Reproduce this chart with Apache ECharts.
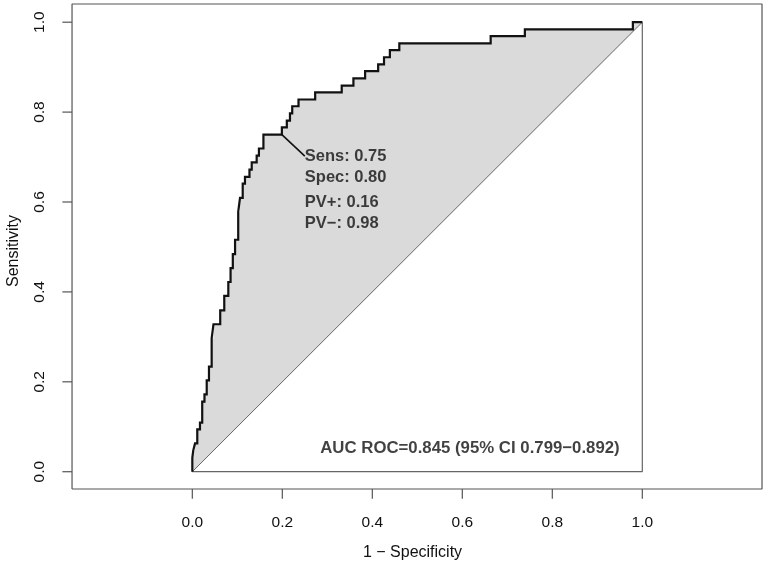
<!DOCTYPE html>
<html><head><meta charset="utf-8">
<script src="https://cdn.jsdelivr.net/npm/echarts@6/dist/echarts.min.js"></script>
<style>html,body{margin:0;padding:0;background:#fff}#c{width:766px;height:565px}</style>
</head><body><div id="c"></div>
<script>
// ROC staircase vertices (1 - specificity, sensitivity)
const fpr = [0,0,0.002,0.002,0.006,0.006,0.011,0.011,0.017,0.017,0.022,0.022,0.027,0.027,0.032,0.032,0.037,0.037,0.043,0.043,0.047,0.047,0.062,0.062,0.071,0.071,0.080,0.080,0.085,0.085,0.090,0.090,0.095,0.095,0.102,0.102,0.106,0.106,0.112,0.112,0.117,0.117,0.127,0.127,0.132,0.132,0.143,0.143,0.148,0.148,0.158,0.158,0.199,0.199,0.210,0.210,0.217,0.217,0.222,0.222,0.236,0.236,0.273,0.273,0.332,0.332,0.358,0.358,0.384,0.384,0.413,0.413,0.426,0.426,0.439,0.439,0.460,0.460,0.663,0.663,0.739,0.739,0.979,0.979,1.000];
const sens = [0,0.031,0.031,0.047,0.047,0.063,0.063,0.094,0.094,0.109,0.109,0.156,0.156,0.172,0.172,0.203,0.203,0.234,0.234,0.297,0.297,0.328,0.328,0.359,0.359,0.391,0.391,0.422,0.422,0.453,0.453,0.484,0.484,0.516,0.516,0.578,0.578,0.609,0.609,0.641,0.641,0.656,0.656,0.672,0.672,0.688,0.688,0.703,0.703,0.719,0.719,0.750,0.750,0.766,0.766,0.781,0.781,0.797,0.797,0.813,0.813,0.828,0.828,0.844,0.844,0.859,0.859,0.875,0.875,0.891,0.891,0.906,0.906,0.922,0.922,0.938,0.938,0.953,0.953,0.969,0.969,0.984,0.984,1.000,1.000];
const xTicks = [0, 0.2, 0.4, 0.6, 0.8, 1.0];
const yTicks = [0, 0.2, 0.4, 0.6, 0.8, 1.0];
const xName = '1 \u2212 Specificity';
const yName = 'Sensitivity';
const bestPoint = [0.199, 0.750];
const bestLabels = ['Sens: 0.75', 'Spec: 0.80', 'PV+: 0.16', 'PV\u2212: 0.98'];
const aucText = 'AUC ROC=0.845 (95% CI 0.799\u22120.892)';

const FONT = '"Liberation Sans", Arial, sans-serif';
const TXT = '#111';
const AX = '#555';
// axis extents include the tick-mark margin; the plot frame sits inside them
const X_MIN = -0.2896, X_MAX = 1.2682, Y_MIN = -0.0607, Y_MAX = 1.0427;
const FX0 = -0.2673, FX1 = 1.2660, FY0 = -0.0385, FY1 = 1.0405;
const TX_END = -0.2888, TY_END = -0.0600;
const chart = echarts.init(document.getElementById('c'), null, { renderer: 'canvas' });
const curve = fpr.map((x, i) => [x, sens[i]]);

// label anchor positions (data space)
const labelX = 0.25;
const labelY = [0.702, 0.655, 0.600, 0.552];

const plain = (z, data, color, width) => ({
  type: 'line', z, silent: true, showSymbol: false, symbol: 'none', clip: false,
  data, lineStyle: { color, width }
});

const tickSeries = [];
xTicks.forEach(v => tickSeries.push(plain(6, [[v, FY0], [v, TY_END]], AX, 1.2)));
yTicks.forEach(v => tickSeries.push(plain(6, [[FX0, v], [TX_END, v]], AX, 1.2)));

chart.setOption({
  animation: false,
  backgroundColor: '#fff',
  grid: { left: 62, right: 3, top: 3, bottom: 66, show: false, outerBoundsMode: 'none', containLabel: false },
  xAxis: {
    type: 'value', min: X_MIN, max: X_MAX,
    splitLine: { show: false },
    axisLine: { show: false, onZero: false },
    axisTick: { show: false },
    axisLabel: { show: true, customValues: xTicks, formatter: v => v.toFixed(1), fontSize: 15.5, color: TXT, margin: 16, fontFamily: FONT },
    name: xName, nameLocation: 'middle', nameGap: 46,
    nameTextStyle: { fontSize: 16, color: TXT, fontFamily: FONT }
  },
  yAxis: {
    type: 'value', min: Y_MIN, max: Y_MAX,
    splitLine: { show: false },
    axisLine: { show: false, onZero: false },
    axisTick: { show: false },
    axisLabel: { show: true, customValues: yTicks, formatter: v => v.toFixed(1), fontSize: 15.5, color: TXT, margin: 14, rotate: 90, fontFamily: FONT },
    name: yName, nameLocation: 'middle', nameGap: 40, nameRotate: 90,
    nameTextStyle: { fontSize: 16, color: TXT, fontFamily: FONT }
  },
  series: [
    {
      type: 'custom', silent: true, z: 1,
      data: [[0, 0]],
      renderItem: (params, api) => {
        if (params.dataIndex !== 0) return null;
        const pts = curve.map(p => api.coord(p));
        return { type: 'polygon', shape: { points: pts }, style: { fill: '#dadada', stroke: null } };
      }
    },
    plain(2, [[0, 0], [1, 1]], '#666', 1),
    plain(2, [[0, 0], [1, 0], [1, 1]], '#666', 1.2),
    plain(3, [[FX0, FY0], [FX1, FY0], [FX1, FY1], [FX0, FY1], [FX0, FY0]], AX, 1.2),
    {
      type: 'line', z: 4, silent: true, showSymbol: false, symbol: 'none',
      data: curve,
      lineStyle: { color: '#111', width: 2.2, join: 'miter' }
    },
    plain(4, [bestPoint, [labelX, labelY[0]]], '#111', 1.6),
    {
      type: 'scatter', z: 5, silent: true, symbolSize: 0,
      data: bestLabels.map((t, i) => ({ value: [labelX, labelY[i]], name: t })),
      label: { show: true, position: 'right', distance: 0, offset: [0, 0], formatter: p => p.name, fontSize: 16.5, fontWeight: 'bold', color: TXT, fontFamily: FONT }
    },
    {
      type: 'scatter', z: 5, silent: true, symbolSize: 0,
      data: [{ value: [0.617, 0.053], name: aucText }],
      label: { show: true, position: 'inside', formatter: p => p.name, fontSize: 16.8, fontWeight: 'bold', color: TXT, fontFamily: FONT }
    }
  ].concat(tickSeries)
});
</script>
</body></html>
